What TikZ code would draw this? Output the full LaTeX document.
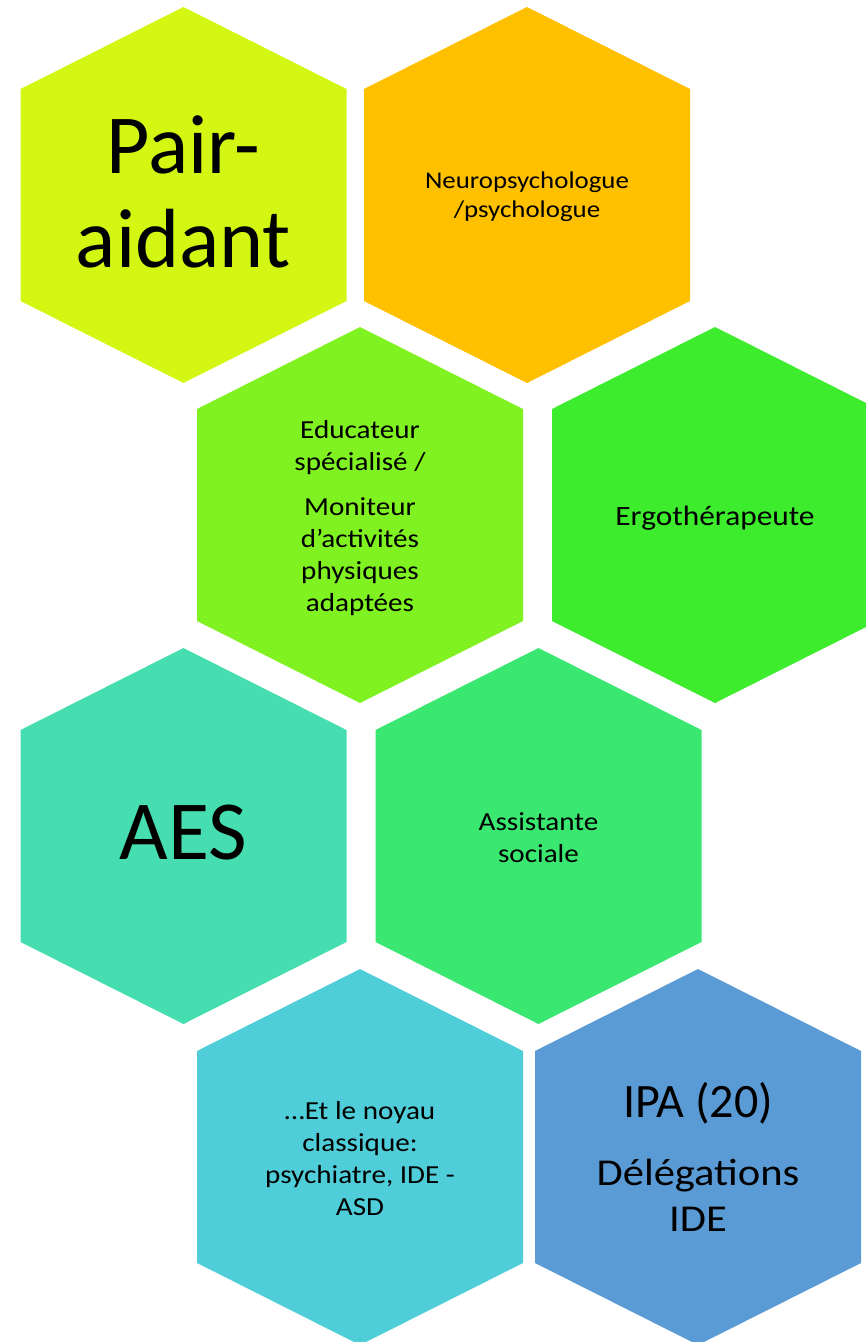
\documentclass[tikz,border=0pt]{standalone}
\usepackage{fontspec}
\setmainfont{Carlito}
\newfontfamily\wideface[FakeStretch=1.12]{Carlito}
\definecolor{pairgreen}{RGB}{212,246,19}
\definecolor{neuroorange}{RGB}{255,192,0}
\definecolor{educgreen}{RGB}{128,241,33}
\definecolor{ergogreen}{RGB}{60,236,45}
\definecolor{aesteal}{RGB}{70,222,177}
\definecolor{socialgreen}{RGB}{58,231,112}
\definecolor{noyaucyan}{RGB}{79,205,216}
\definecolor{ipablue}{RGB}{91,155,213}

% one cell of the honeycomb: #1 centre, #2 colour
\newcommand{\honeycell}[2]{%
  \fill[#2, shift={#1}] (0,-188) -- (163,-106) -- (163,106) -- (0,188)
    -- (-163,106) -- (-163,-106) -- cycle;}

\begin{document}
\begin{tikzpicture}[x=1pt, y=-1pt,
    lbl/.style={align=center, text=black, inner sep=0pt},
    hugetxt/.style={font=\fontsize{84}{94}\selectfont},
    midtxt/.style={font=\wideface\fontsize{26}{32}\selectfont}]
   \useasboundingbox (0,0) rectangle (866,1342);
   \clip (0,0) rectangle (866,1342);
   % cells, row by row
   \honeycell{(183.5,195)}{pairgreen}
   \honeycell{(527,195)}{neuroorange}
   \honeycell{(360,515)}{educgreen}
   \honeycell{(715,515)}{ergogreen}
   \honeycell{(183.5,836)}{aesteal}
   \honeycell{(538.5,836)}{socialgreen}
   \honeycell{(360,1157)}{noyaucyan}
   \honeycell{(698,1157)}{ipablue}
   % labels
   \node[lbl, hugetxt] (pair) at (183.5,192) {Pair-\\aidant};
   \node[lbl, font=\wideface\fontsize{24}{29}\selectfont] (neuro) at (527,197) {Neuropsychologue\\/psychologue};
   \node[lbl, midtxt] (educ) at (360,518) {Educateur\\spécialisé /\\[13pt]Moniteur\\d’activités\\physiques\\adaptées};
   \node[lbl, font=\wideface\fontsize{28}{34}\selectfont] (ergo) at (715,518) {Ergothérapeute};
   \node[lbl, hugetxt] (aes) at (183.5,833) {AES};
   \node[lbl, midtxt] (social) at (538.5,838) {Assistante\\sociale};
   \node[lbl, midtxt] (noyau) at (360,1159) {…Et le noyau\\classique:\\psychiatre, IDE -\\ASD};
   \node[lbl, font=\wideface\fontsize{38}{46}\selectfont] (ipa) at (698,1157)
      {{\normalfont\fontsize{48}{58}\selectfont IPA (20)}\\[22pt]Délégations\\IDE};
\end{tikzpicture}
\end{document}
